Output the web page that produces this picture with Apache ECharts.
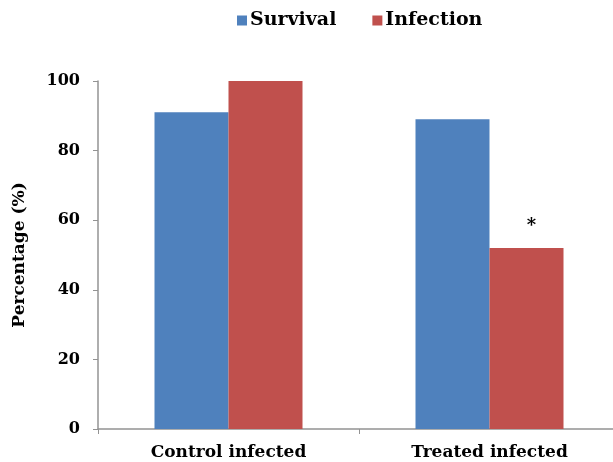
<!DOCTYPE html>
<html><head><meta charset="utf-8">
<script src="https://cdn.jsdelivr.net/npm/echarts@6/dist/echarts.min.js"></script>
<style>html,body{margin:0;padding:0;background:#fff;overflow:hidden}#c{width:620px;height:462px}</style>
</head><body><div id="c"></div>
<script>
const categories = ['Control infected', 'Treated infected'];
const survival = [91, 89];
const infection = [100, 52];
const infectionMarks = ['', '*'];
const yTicks = [0, 20, 40, 60, 80, 100];

const font = 'DejaVu Serif';
const chart = echarts.init(document.getElementById('c'));
chart.setOption({
  animation: false,
  legend: {
    top: 6, left: 232, itemWidth: 10, itemHeight: 10, itemGap: 36,
    icon: 'rect',
    textStyle: {fontFamily: font, fontWeight: 'bold', fontSize: 19, color: '#000', padding: [0, 0, 0, -2]},
    data: ['Survival', 'Infection']
  },
  grid: {left: 98, right: 0, top: 81, bottom: 33, containLabel: false},
  xAxis: {
    type: 'category', data: categories,
    axisLine: {lineStyle: {color: '#939393', width: 1.5}},
    axisTick: {show: true, length: 5, lineStyle: {color: '#939393'}},
    axisLabel: {fontFamily: font, fontWeight: 'bold', fontSize: 17, color: '#000', margin: 15}
  },
  yAxis: {
    type: 'value', min: yTicks[0], max: yTicks[yTicks.length - 1], interval: 20,
    name: 'Percentage (%)', nameLocation: 'middle', nameGap: 70,
    nameTextStyle: {fontFamily: font, fontWeight: 'bold', fontSize: 17, color: '#000'},
    axisLine: {show: true, lineStyle: {color: '#939393', width: 1.5}},
    axisTick: {show: true, length: 5, lineStyle: {color: '#939393'}},
    splitLine: {show: false},
    axisLabel: {fontFamily: font, fontWeight: 'bold', fontSize: 16, color: '#000', margin: 18}
  },
  series: [
    {name: 'Survival', type: 'bar', data: survival, barWidth: 74, barGap: '0%',
     itemStyle: {color: '#4F81BD'}},
    {name: 'Infection', type: 'bar', data: infection, barWidth: 74, barGap: '0%',
     itemStyle: {color: '#C0504D'},
     label: {show: true, position: 'top', distance: 13, offset: [5, 0],
       formatter: p => infectionMarks[p.dataIndex],
       fontFamily: font, fontWeight: 'bold', fontSize: 18, color: '#000'}}
  ]
});
</script></body></html>
